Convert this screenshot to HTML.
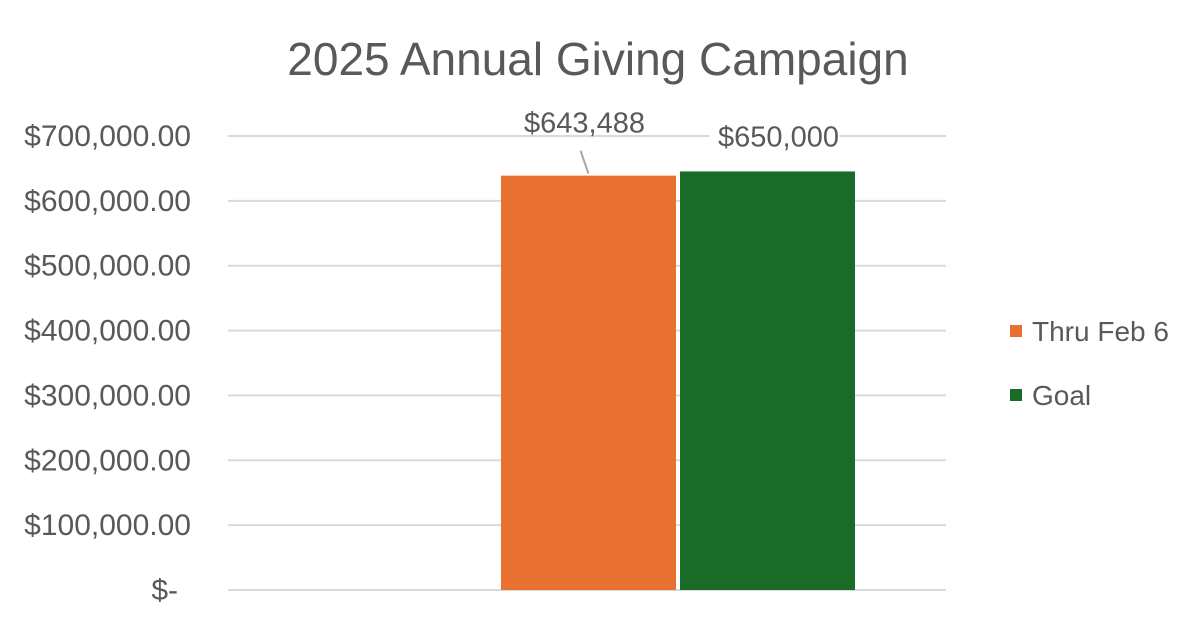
<!DOCTYPE html>
<html><head><meta charset="utf-8"><style>
body{margin:0;background:#fff;width:1200px;height:625px;overflow:hidden}
svg text{font-family:"Liberation Sans",sans-serif;fill:#595959}
</style></head><body>
<svg id="chart" width="1200" height="625" xmlns="http://www.w3.org/2000/svg">
<text x="598" y="75" font-size="46" text-anchor="middle">2025 Annual Giving Campaign</text>
<g id="grid"></g><g id="ylabels"></g><g id="bars"></g><g id="labels"></g><g id="legend"></g>
</svg>
<script>
const categories=["Thru Feb 6","Goal"];
const values=[643488,650000];
const valueLabels=["$643,488","$650,000"];
const colors=["#E87031","#1A6B28"];
const yTicks=[0,100000,200000,300000,400000,500000,600000,700000];
const yTickLabels=["$-","$100,000.00","$200,000.00","$300,000.00","$400,000.00","$500,000.00","$600,000.00","$700,000.00"];
const NS="http://www.w3.org/2000/svg";
const y0=590,yTop=136,yMax=700000;
function y(v){return y0-(v/yMax)*(y0-yTop);}
function mk(tag,attrs,parent){const e=document.createElementNS(NS,tag);for(const k in attrs)e.setAttribute(k,attrs[k]);document.getElementById(parent).appendChild(e);return e;}
yTicks.forEach((t,i)=>{
  const l=mk('line',{x1:228,x2:946,y1:y(t),y2:y(t),stroke:'#d9d9d9','stroke-width':2},'grid');
  
  
  const tx=mk('text',{x:i===0?178:191,y:y(t)+10,'font-size':30,'text-anchor':'end'},'ylabels');
  tx.textContent=yTickLabels[i];
  
  
});
const barX=[501,680],barW=175;
values.forEach((v,i)=>{
  const top=y(v)+3;
  const r=mk('rect',{x:barX[i],y:top,width:barW,height:y0-top,fill:colors[i]},'bars');
  
  
});
const cx0=barX[0]+barW/2;
const ln=mk('line',{x1:cx0-8,y1:y(values[0])-22,x2:cx0,y2:y(values[0])+1,stroke:'#a6a6a6','stroke-width':2},'labels');


const lb0=mk('text',{x:cx0-4,y:y(values[0])-40,'font-size':29,'text-anchor':'middle'},'labels');
lb0.textContent=valueLabels[0];


const cx1=barX[1]+barW/2;
mk('rect',{x:cx1-58,y:y(values[1])-44,width:130,height:28,fill:'#fff'},'labels');
const lb1=mk('text',{x:cx1+11,y:y(values[1])-22,'font-size':29,'text-anchor':'middle'},'labels');
lb1.textContent=valueLabels[1];


categories.forEach((c,i)=>{
  const yy=331+i*64;
  const s=mk('rect',{x:1010,y:yy-6,width:12,height:12,fill:colors[i]},'legend');
  
  
  const t=mk('text',{x:1032,y:yy+10,'font-size':28},'legend');
  t.textContent=c;
  
  
});
</script>
</body></html>
